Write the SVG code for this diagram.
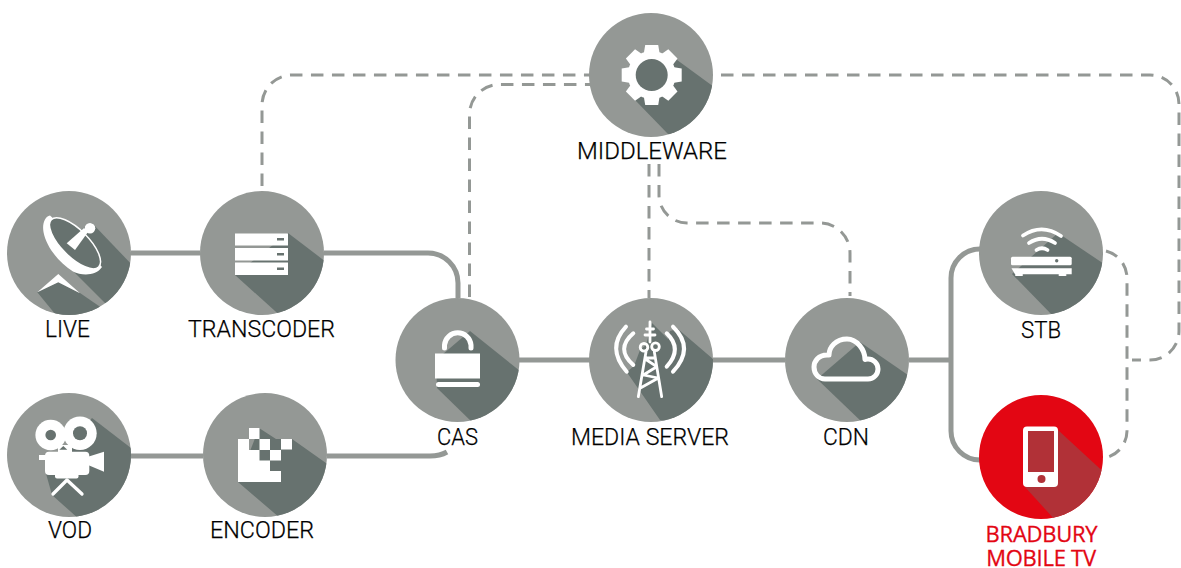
<svg xmlns="http://www.w3.org/2000/svg" xmlns:xlink="http://www.w3.org/1999/xlink" width="1181" height="568" viewBox="0 0 1181 568">
<style>
.disc{fill:#949895}.shade{fill:#67726f}.w{fill:#fff}.ws{fill:none;stroke:#fff;stroke-linecap:round;stroke-linejoin:round}
.d{fill:#67726f}
.solid{fill:none;stroke:#949895;stroke-width:5}
.dash{fill:none;stroke:#949895;stroke-width:3;stroke-dasharray:12.5 8.5}
text{font-family:Roboto,"Liberation Sans",sans-serif;font-size:23.5px;fill:#000;stroke:#000;stroke-width:.25px;font-weight:300}
.red{font-family:"Open Sans","Liberation Sans",sans-serif;fill:#e30613;stroke:#e30613;stroke-width:.3px;font-size:22px;font-weight:400;text-anchor:middle;letter-spacing:-.25px}
</style>
<defs>
<clipPath id="c-live"><circle cx="69" cy="253" r="62"/></clipPath>
<clipPath id="c-trans"><circle cx="262" cy="253" r="62"/></clipPath>
<clipPath id="c-vod"><circle cx="69" cy="455" r="62"/></clipPath>
<clipPath id="c-enc"><circle cx="265" cy="455" r="62"/></clipPath>
<clipPath id="c-cas"><circle cx="457.5" cy="360" r="62"/></clipPath>
<clipPath id="c-media"><circle cx="651" cy="360" r="62"/></clipPath>
<clipPath id="c-cdn"><circle cx="847" cy="360" r="62"/></clipPath>
<clipPath id="c-stb"><circle cx="1041" cy="253" r="62"/></clipPath>
<clipPath id="c-mob"><circle cx="1041" cy="457" r="62"/></clipPath>
<clipPath id="c-mid"><circle cx="651" cy="75" r="62"/></clipPath>
<polygon id="tooth" points="-8,-21 -6.500,-30 6.500,-30 8,-21"/>
</defs>

<g id="connectors">
<path class="solid" d="M131,253H200M324,253H428A30,30 0 0 1 458,283V298"/>
<path class="solid" d="M131,456H203M327,456H430Q440,456 447,452"/>
<path class="solid" d="M519,360H590M713,360H785M909,360H951"/>
<path class="solid" d="M980,249A29,29 0 0 0 951,278V431A29,29 0 0 0 980,460"/>
<path class="dash" d="M262,186V105A30,30 0 0 1 292,75H590"/>
<path class="dash" d="M469.500,297V115A30,30 0 0 1 499.500,84.500H590"/>
<path class="dash" d="M649,164V298"/>
<path class="dash" d="M659,164V195A28,28 0 0 0 687,223H820A30,30 0 0 1 850,253V296"/>
<path class="dash" d="M721,75H1150A29,29 0 0 1 1179,104V331A29,29 0 0 1 1150,360H1132"/>
<path class="dash" d="M1106,251A28,28 0 0 1 1127,278V431A28,28 0 0 1 1105,458"/>
</g>

<g id="node-live">
<circle class="disc" cx="69" cy="253" r="62"/>
<g clip-path="url(#c-live)">
<polygon class="shade" points="92,223 135,268 135,325 105,303 75,273 56,245"/>
<polygon class="shade" points="37.300,292.300 58,282 80,293 100,306.700 95,335 60,320"/>
</g>
<path class="w" d="M50,215.500C45,216 42,224 43.500,232C46,246 58,262 73,271.500C82,276 96,276 102,267L75,238Z"/>
<ellipse class="d" cx="75" cy="243.300" rx="33.500" ry="13.500" transform="rotate(45 75 243.300)" stroke="#fff" stroke-width="1.500"/>
<polygon class="w" points="66.700,243.300 75,250 88,232 84,228"/>
<circle class="w" cx="90" cy="228.300" r="5.300"/>
<polygon class="w" points="37.300,292.300 58.300,274 80,293.300 58.300,282.300"/>
</g>

<g id="node-transcoder">
<circle class="disc" cx="262" cy="253" r="62"/>
<polygon class="shade" clip-path="url(#c-trans)" points="288,233 330,265 330,330 285,320 235,275"/>
<rect class="w" x="235" y="233.500" width="53" height="12"/>
<rect class="w" x="235" y="248" width="53" height="12.500"/>
<rect class="w" x="235" y="262.500" width="53" height="12.500"/>
<rect class="d" x="277" y="238" width="7" height="2.500"/>
<rect class="d" x="277" y="253" width="7" height="2.500"/>
<rect class="d" x="277" y="267.500" width="7" height="2.500"/>
</g>

<g id="node-vod">
<circle class="disc" cx="69" cy="455" r="62"/>
<polygon class="shade" clip-path="url(#c-vod)" points="92,418 135,451 135,530 80,520 52,495 45,470"/>
<circle class="w" cx="50.700" cy="435" r="15.300"/>
<circle class="w" cx="80" cy="433.300" r="16.700"/>
<polygon class="w" points="58,445 72,445 72,452 58,452"/>
<polygon class="d" points="59.300,449.800 63.300,446 67.300,449.800"/>
<circle class="d" cx="50.700" cy="435" r="5.300"/>
<circle class="d" cx="80" cy="433.300" r="7"/>
<path class="w" d="M49,451.700H85.300Q89.300,451.700 89.300,455.700V471Q89.300,475 85.300,475H49Q45,475 45,471V455.700Q45,451.700 49,451.700Z"/>
<rect class="w" x="39" y="455" width="7" height="5"/>
<polygon class="w" points="88,456.700 104,451.700 104,471.700 88,465"/>
<rect class="w" x="55" y="473" width="23.500" height="5.500" rx="2"/>
<path class="ws" stroke-width="3.300" d="M53,494L67,480L82,494"/>
</g>

<g id="node-encoder">
<circle class="disc" cx="265" cy="455" r="62"/>
<polygon class="shade" clip-path="url(#c-enc)" points="259,428 276,439 292,439 330,466 330,530 280,518 238,482"/>
<path class="w" d="M238,439H249V450H259.500V460.500H270V471H281V482H238Z"/>
<rect class="w" x="249" y="428" width="10.500" height="11"/>
<rect class="w" x="259.500" y="439" width="10.500" height="11"/>
<rect class="w" x="270" y="450" width="11" height="10.500"/>
<rect class="w" x="281" y="439" width="11" height="10.500"/>
</g>

<g id="node-cas">
<circle class="disc" cx="457.500" cy="360" r="62"/>
<polygon class="shade" clip-path="url(#c-cas)" points="470,331 525,375 525,430 475,425 437,388 436,360"/>
<path class="ws" stroke-width="5" d="M444.500,348V345A13.300,13.300 0 0 1 471,345V348"/>
<rect class="w" x="435" y="353.500" width="45" height="25"/>
<rect class="w" x="436" y="382" width="44" height="5" rx="2.500"/>
</g>

<g id="node-media">
<circle class="disc" cx="651" cy="360" r="62"/>
<polygon class="shade" clip-path="url(#c-media)" points="652,323 668,339 670,331 678,329 720,365 720,430 660,420 626.700,372 634,366 640,350 646,345"/>
<g class="ws" stroke-width="2.800">
<path d="M633.300,333.300Q615,349 633.300,365" stroke-width="4"/>
<path d="M626,326.700Q606,348 626.700,371.700" stroke-width="4"/>
<path d="M666.700,333.300Q683,349 666.700,366.700" stroke-width="4"/>
<path d="M673,326.700Q695,348 673,371.700" stroke-width="4"/>
<path d="M650,322V342"/>
<path d="M646.500,329H653.500M645,335H655"/>
<circle cx="644" cy="347.300" r="3.800"/>
<circle cx="655.500" cy="346.700" r="3.800"/>
<path d="M646,351.700L638.300,396.700M654.300,351.700L661.700,396.700M646.700,358H655M646.700,360L656.700,366.700L643.300,375L658.300,378L640,388.300"/>
</g>
</g>

<g id="node-cdn">
<circle class="disc" cx="847" cy="360" r="62"/>
<polygon class="shade" clip-path="url(#c-cdn)" points="860,342 915,380 915,430 865,425 817,379"/>
<path class="ws" stroke-width="5" d="M825,379H868C874,379 878,374 878,369C878,363 873,359 868,359C867,359 866,359 865,359.500C865,350 857,339 847,339C836,339 829,347 829,355C818,354 814,362 814,367C814,374 819,379 825,379Z"/>
</g>

<g id="node-stb">
<circle class="disc" cx="1041" cy="253" r="62"/>
<polygon class="shade" clip-path="url(#c-stb)" points="1058,233 1110,268 1110,330 1055,318 1012,274"/>
<g class="ws" stroke-width="3.800">
<path d="M1023,235.500Q1042,223 1061,236"/>
<path d="M1029,243Q1042,234.500 1055,243"/>
<path d="M1036.500,250Q1042,246.500 1047.500,250"/>
</g>
<rect class="w" x="1011" y="256.700" width="60.700" height="8.500" rx="1.500"/>
<polygon class="w" points="1011.500,268.300 1071.700,268.300 1071.700,274.300 1015,274.300"/>
<rect class="w" x="1015" y="274" width="8" height="2" rx="1"/>
<rect class="w" x="1058.500" y="274" width="8" height="2" rx="1"/>
<circle class="d" cx="1056.700" cy="260.700" r="1.700"/>
</g>

<g id="node-bradbury">
<circle cx="1041" cy="457" r="62" fill="#e30613"/>
<polygon fill="#b13137" clip-path="url(#c-mob)" points="1058,430 1110,478 1110,530 1055,520 1025,487"/>
<rect class="w" x="1023" y="426.500" width="35" height="60.500" rx="4"/>
<rect x="1028" y="431" width="26" height="41" fill="#b13137"/>
<circle cx="1041.500" cy="479" r="4" fill="#b13137"/>
</g>

<g id="node-middleware">
<circle class="disc" cx="651" cy="75" r="62"/>
<polygon class="shade" clip-path="url(#c-mid)" points="673,57 718,90 718,145 668,134 635,100"/>
<g transform="translate(651.700 75)" class="w">
<circle r="24"/>
<use xlink:href="#tooth"/>
<use xlink:href="#tooth" transform="rotate(45)"/>
<use xlink:href="#tooth" transform="rotate(90)"/>
<use xlink:href="#tooth" transform="rotate(135)"/>
<use xlink:href="#tooth" transform="rotate(180)"/>
<use xlink:href="#tooth" transform="rotate(225)"/>
<use xlink:href="#tooth" transform="rotate(270)"/>
<use xlink:href="#tooth" transform="rotate(315)"/>
<circle class="d" r="16"/>
</g>
</g>

<g id="labels">
<text x="45" y="337" textLength="45" lengthAdjust="spacingAndGlyphs">LIVE</text>
<text x="188" y="337" textLength="147" lengthAdjust="spacingAndGlyphs">TRANSCODER</text>
<text x="48" y="538" textLength="44" lengthAdjust="spacingAndGlyphs">VOD</text>
<text x="210" y="538" textLength="104" lengthAdjust="spacingAndGlyphs">ENCODER</text>
<text x="437" y="444.500" textLength="41" lengthAdjust="spacingAndGlyphs">CAS</text>
<text x="571" y="444.500" textLength="158" lengthAdjust="spacingAndGlyphs">MEDIA SERVER</text>
<text x="823" y="444.500" textLength="46" lengthAdjust="spacingAndGlyphs">CDN</text>
<text x="1021" y="337.500" textLength="40" lengthAdjust="spacingAndGlyphs">STB</text>
<text x="577" y="159" textLength="150" lengthAdjust="spacingAndGlyphs">MIDDLEWARE</text>
<text class="red" x="1041.500" y="542"><tspan x="1041.500" y="542">BRADBURY</tspan><tspan x="1041" y="566">MOBILE TV</tspan></text>
</g>
</svg>
